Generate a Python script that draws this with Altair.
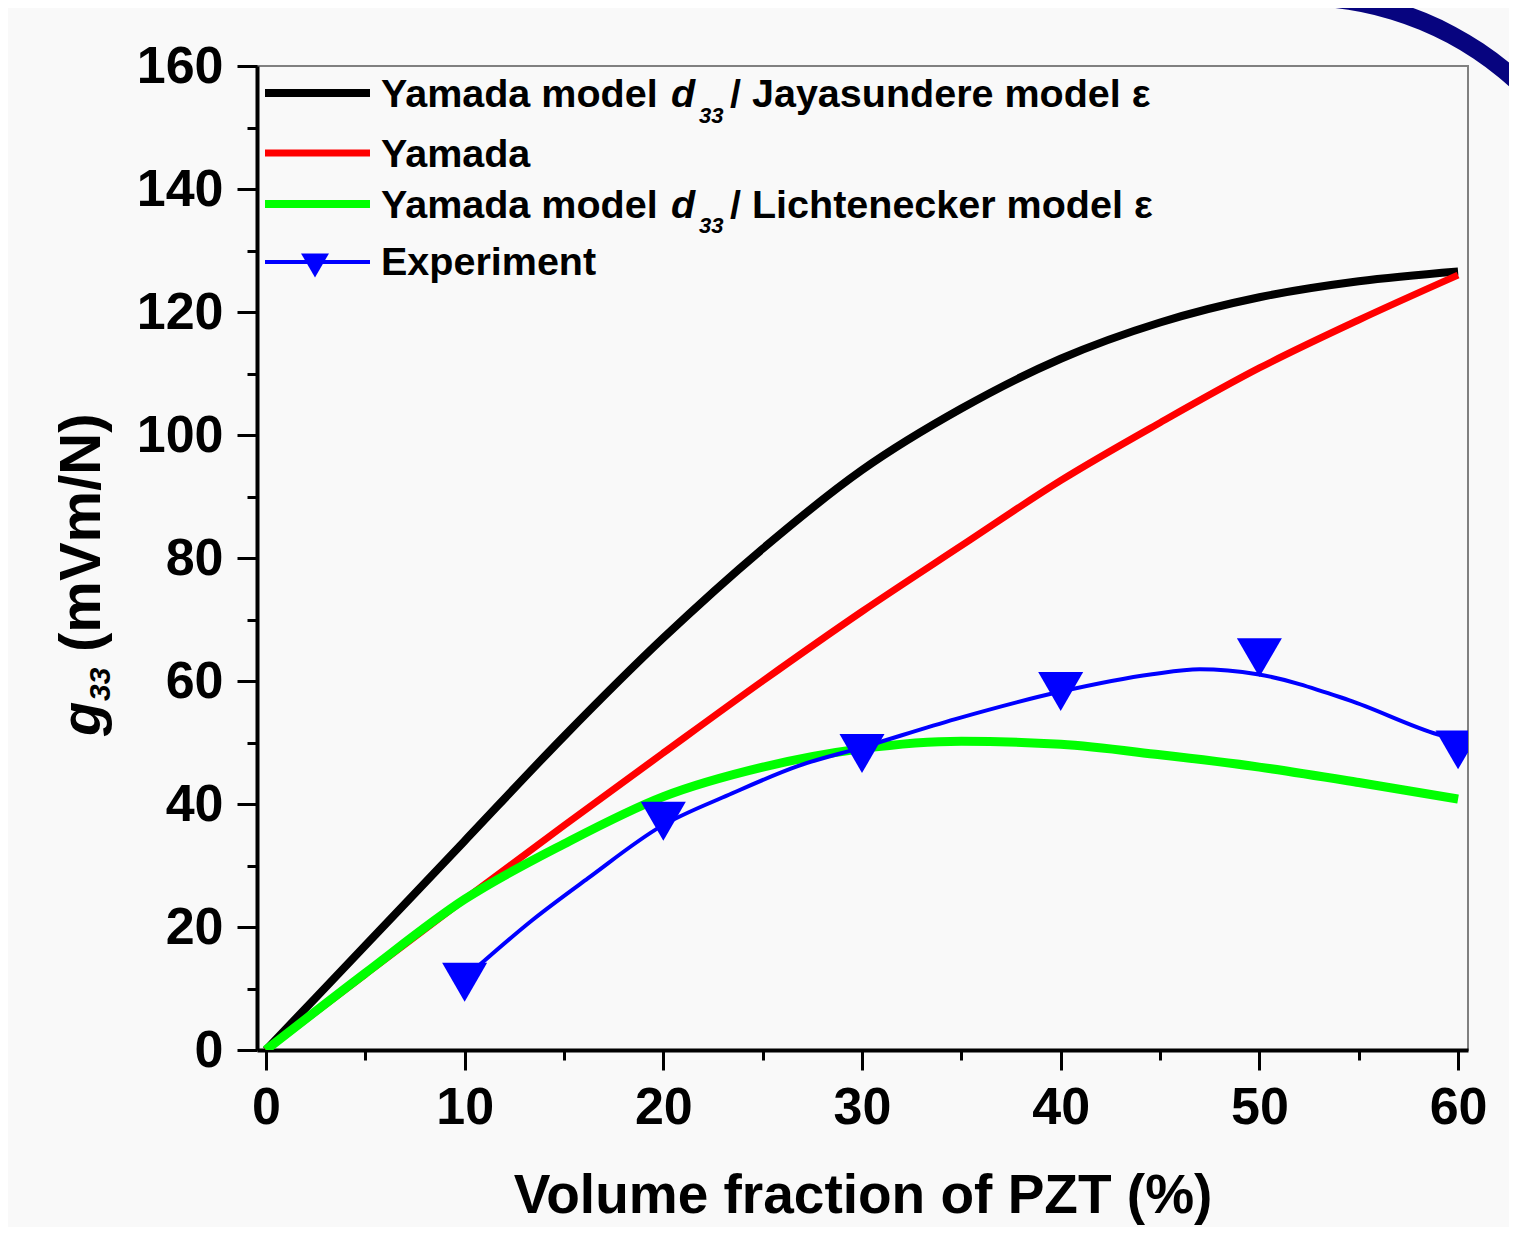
import altair as alt
import pandas as pd

# ---------------- data ----------------
x_model = [0, 5, 10, 15, 20, 25, 30, 35, 40, 45, 50, 55, 60]
g33_jayasundere = [0, 17, 34, 51, 67, 81.5, 94.3, 104.3, 112.4, 118.3, 122.4, 125, 126.6]
g33_yamada = [0, 12.3, 24.5, 36.5, 48.3, 60, 71.3, 82, 92.6, 102, 110.9, 118.7, 126]
g33_lichtenecker = [0, 12.5, 24.5, 33.5, 41.2, 46, 49, 50.2, 49.7, 48, 46, 43.5, 40.8]

x_exp = [10, 20, 30, 40, 50, 60]
g33_exp = [11.0, 37.2, 48.2, 58.3, 63.8, 48.8]

x_fit = [10.6, 13.4, 16.2, 19.9, 23.3, 26.8, 30, 34.7, 39.9, 44.6, 47, 49.9, 54.5, 59, 60]
g33_fit = [13.4, 21.1, 27.9, 36.4, 41.5, 46.2, 49.2, 53.8, 58.2, 61.1, 61.9, 61.1, 56.9, 51.3, 50.4]

x_major_ticks = [0, 10, 20, 30, 40, 50, 60]
x_minor_ticks = [5, 15, 25, 35, 45, 55]
y_major_ticks = [0, 20, 40, 60, 80, 100, 120, 140, 160]
y_minor_ticks = [10, 30, 50, 70, 90, 110, 130, 150]

x_title = "Volume fraction of PZT (%)"
legend_row1 = ["Yamada model", "d", "33", "/ Jayasundere model \u03b5"]
legend_row2 = "Yamada"
legend_row3 = ["Yamada model", "d", "33", "/ Lichtenecker model \u03b5"]
legend_row4 = "Experiment"
y_title = ["g", "33", "(mVm/N)"]

# ---------------- chart ----------------
FONT = "Liberation Sans"
W, H = 1211, 984
BLACK, RED, GREEN, BLUE = "#000000", "#ff0000", "#00ff00", "#0000ff"
LEG = 39.5

xs = alt.Scale(domain=[-0.45, 60.5], nice=False, zero=False)
ys = alt.Scale(domain=[0, 160], nice=False, zero=False)

df_model = pd.DataFrame({"x": x_model, "jay": g33_jayasundere,
                         "yam": g33_yamada, "lic": g33_lichtenecker})
df_exp = pd.DataFrame({"x": x_exp, "g": g33_exp})
df_fit = pd.DataFrame({"x": x_fit, "g": g33_fit})

x_major = alt.Axis(values=x_major_ticks, orient="bottom", tickSize=20, tickWidth=3,
                   tickColor="black", domainWidth=4, domainColor="black",
                   labelFont=FONT, labelFontSize=52, labelFontWeight="bold",
                   labelColor="black", labelPadding=12, labelFlush=False,
                   labelOverlap=False, grid=False, title=x_title,
                   titleFont=FONT, titleFontSize=55, titleFontWeight="bold",
                   titleColor="black", titleBaseline="alphabetic", titleY=162)
y_major = alt.Axis(values=y_major_ticks, orient="left", tickSize=20, tickWidth=3,
                   tickColor="black", domainWidth=4, domainColor="black",
                   labelFont=FONT, labelFontSize=52, labelFontWeight="bold",
                   labelColor="black", labelPadding=14, labelFlush=False,
                   labelOverlap=False, grid=False, title=None)
x_minor = alt.Axis(values=x_minor_ticks, orient="bottom", tickSize=10, tickWidth=3,
                   tickColor="black", domain=False, labels=False, grid=False, title=None)
y_minor = alt.Axis(values=y_minor_ticks, orient="left", tickSize=10, tickWidth=3,
                   tickColor="black", domain=False, labels=False, grid=False, title=None)

black = alt.Chart(df_model).mark_line(color=BLACK, strokeWidth=8, interpolate="monotone",
                                      clip=True).encode(
    x=alt.X("x:Q", scale=xs, axis=x_major), y=alt.Y("jay:Q", scale=ys, axis=y_major))
red = alt.Chart(df_model).mark_line(color=RED, strokeWidth=7, interpolate="monotone",
                                    clip=True).encode(
    x=alt.X("x:Q", scale=xs, axis=None), y=alt.Y("yam:Q", scale=ys, axis=None))
green = alt.Chart(df_model).mark_line(color=GREEN, strokeWidth=9, interpolate="monotone",
                                      clip=True).encode(
    x=alt.X("x:Q", scale=xs, axis=None), y=alt.Y("lic:Q", scale=ys, axis=None))
fit = alt.Chart(df_fit).mark_line(color=BLUE, strokeWidth=4, interpolate="monotone",
                                  clip=True).encode(
    x=alt.X("x:Q", scale=xs, axis=None), y=alt.Y("g:Q", scale=ys, axis=None))
pts = alt.Chart(df_exp).mark_point(shape="triangle-down", filled=True, size=2025,
                                   color=BLUE, opacity=1, clip=True).encode(
    x=alt.X("x:Q", scale=xs, axis=None), y=alt.Y("g:Q", scale=ys, axis=None))
minor = alt.Chart(df_exp).mark_point(opacity=0).encode(
    x=alt.X("x:Q", scale=xs, axis=x_minor), y=alt.Y("g:Q", scale=ys, axis=y_minor))

one = alt.Data(values=[{"k": 0}])


def txt(s, px, py, size=LEG, style="normal", angle=0):
    return alt.Chart(one).mark_text(text=s, align="left", baseline="alphabetic",
                                    font=FONT, fontWeight="bold", fontStyle=style,
                                    fontSize=size, angle=angle, color="black").encode(
        x=alt.value(px), y=alt.value(py))


def swatch(color, width, py):
    return alt.Chart(one).mark_rule(color=color, strokeWidth=width).encode(
        x=alt.value(8), x2=alt.value(113), y=alt.value(py))


deco = []
# slide decoration (navy arc top right)
deco.append(alt.Chart(one).mark_arc(color="#07047f").encode(
    theta=alt.value(0), theta2=alt.value(1.5708),
    radius=alt.value(330), radius2=alt.value(312),
    x=alt.value(1043), y=alt.value(252)))

# legend
deco += [swatch(BLACK, 8, 27), swatch(RED, 7, 87), swatch(GREEN, 8, 138), swatch(BLUE, 4, 196)]
deco.append(alt.Chart(one).mark_point(shape="triangle-down", filled=True, size=784,
                                      color=BLUE, opacity=1).encode(
    x=alt.value(58), y=alt.value(199.5)))
for row, base, sub in [(legend_row1, 41, 57), (legend_row3, 152, 167)]:
    deco.append(txt(row[0], 124, base))
    deco.append(txt(row[1], 414, base, style="italic"))
    deco.append(txt(row[2], 442, sub, size=22, style="italic"))
    deco.append(txt(row[3], 473, base))
deco.append(txt(legend_row2, 124, 101))
deco.append(txt(legend_row4, 124, 209))

# y title (rotated, with italic g and subscript 33)
deco.append(txt(y_title[0], -157, 670, size=56, style="italic", angle=270))
deco.append(txt(y_title[1], -147, 635, size=30, style="italic", angle=270))
deco.append(txt(y_title[2], -157, 586, size=58, angle=270))

chart = alt.layer(black, red, green, fit, pts, minor, *deco).resolve_axis(
    x="independent", y="independent"
).properties(
    width=W, height=H,
    padding={"left": 249, "top": 58, "right": 41, "bottom": 177},
    autosize=alt.AutoSizeParams(type="none"),
    background="#f9f9f9",
).configure_view(stroke="#808080", strokeWidth=2)

chart.save("out.html", embed_options={"renderer": "svg", "actions": False})
